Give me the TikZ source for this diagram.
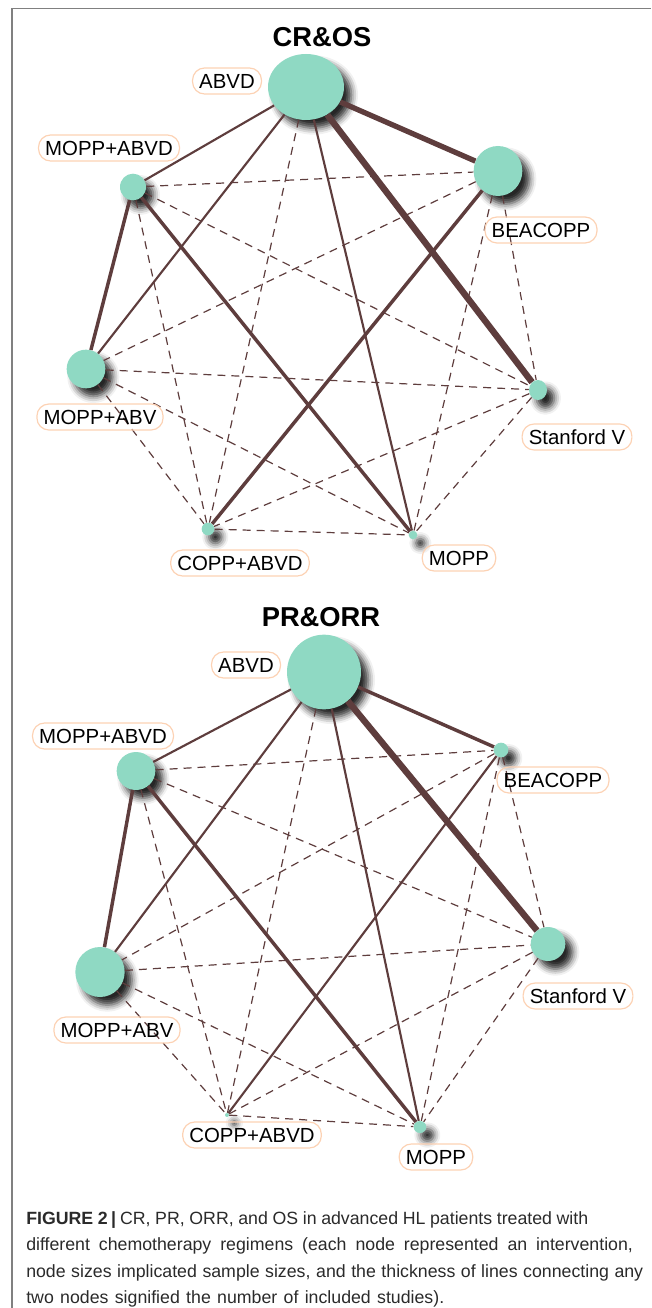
\documentclass[tikz,border=0pt]{standalone}
\usepackage{fontspec}
\setmainfont{Liberation Sans}
\usetikzlibrary{shapes.geometric,shadows.blur}
\definecolor{nodefill}{HTML}{8FD9C3}
\definecolor{edgecol}{HTML}{5E3D3D}
\definecolor{labborder}{HTML}{FCD2B4}
\definecolor{framecol}{HTML}{808080}
\definecolor{captcol}{HTML}{2A2A2A}
\tikzset{
  nd/.style={ellipse, fill=nodefill, inner sep=0pt,
    blur shadow={shadow xshift=5.5pt, shadow yshift=-6pt, shadow blur radius=5pt, shadow opacity=85}},
  lab/.style={draw=labborder, line width=0.9pt, rounded corners=9pt, inner xsep=5pt, inner ysep=0pt,
    minimum height=19.5pt, font=\fontsize{15.3pt}{17pt}\selectfont, text=black},
  ttl/.style={font=\fontsize{20.5pt}{24pt}\selectfont\bfseries},
  captxt/.style={anchor=base west, inner sep=0pt, text=captcol, font=\fontsize{13.3pt}{20pt}\selectfont},
  ed/.style={draw=edgecol},
  wa/.style={ed, line width=1.6pt},
  wb/.style={ed, line width=2.6pt},
  wc/.style={ed, line width=4pt},
  wd/.style={ed, line width=4.8pt},
  dsh/.style={ed, line width=0.9pt, dash pattern=on 6pt off 4.5pt},
}
\begin{document}
\begin{tikzpicture}[x=0.75pt, y=-0.75pt]
\useasboundingbox (0,0) rectangle (651,1308);
% frame
\coordinate (fa) at (12,1308);
\coordinate (fb) at (12,8.5);
\coordinate (fc) at (651,8.5);
\draw[framecol, line width=1.2pt] (fa) -- (fb) -- (fc);

% ===== top graph =====
\node[ttl] (t-title) at (322,37) {CR\&OS};
\node[nd, minimum width=57pt, minimum height=49.5pt] (t-abvd) at (306,87) {};
\node[nd, minimum width=19.5pt, minimum height=20pt] (t-mabvd) at (133,187) {};
\node[nd, minimum width=36.5pt, minimum height=37.5pt] (t-beac) at (498,171) {};
\node[nd, minimum width=29pt, minimum height=29pt] (t-mabv) at (86,369) {};
\node[nd, minimum width=13.5pt, minimum height=15pt] (t-stan) at (538,390) {};
\node[nd, minimum width=9.5pt, minimum height=9.5pt] (t-copp) at (208,529) {};
\node[nd, minimum width=6.5pt, minimum height=6.5pt] (t-mopp) at (413,535) {};

\draw[wa] (t-abvd) -- (t-mabvd);
\draw[wa] (t-abvd) -- (t-mabv);
\draw[wc] (t-abvd) -- (t-beac);
\draw[wd] (t-abvd) -- (t-stan);
\draw[wa] (t-abvd) -- (t-mopp);
\draw[dsh] (t-abvd) -- (t-copp);
\draw[wb] (t-mabvd) -- (t-mabv);
\draw[wb] (t-mabvd) -- (t-mopp);
\draw[dsh] (t-mabvd) -- (t-beac);
\draw[dsh] (t-mabvd) -- (t-stan);
\draw[dsh] (t-mabvd) -- (t-copp);
\draw[wb] (t-beac) -- (t-copp);
\draw[dsh] (t-beac) -- (t-mabv);
\draw[dsh] (t-beac) -- (t-mopp);
\draw[dsh] (t-beac) -- (t-stan);
\draw[dsh] (t-mabv) -- (t-stan);
\draw[dsh] (t-mabv) -- (t-copp);
\draw[dsh] (t-mabv) -- (t-mopp);
\draw[dsh] (t-stan) -- (t-copp);
\draw[dsh] (t-stan) -- (t-mopp);
\draw[dsh] (t-copp) -- (t-mopp);

\node[lab] (tl-abvd) at (227,81) {ABVD};
\node[lab] (tl-mabvd) at (109,148) {MOPP+ABVD};
\node[lab] (tl-beac) at (541,230) {BEACOPP};
\node[lab] (tl-mabv) at (100,417) {MOPP+ABV};
\node[lab] (tl-stan) at (577,437) {Stanford V};
\node[lab] (tl-copp) at (240,563) {COPP+ABVD};
\node[lab] (tl-mopp) at (459,558) {MOPP};

% ===== bottom graph =====
\node[ttl] (b-title) at (321,617) {PR\&ORR};
\node[nd, minimum width=55.5pt, minimum height=56pt] (b-abvd) at (324,672) {};
\node[nd, minimum width=29pt, minimum height=28.5pt] (b-mabvd) at (136,771) {};
\node[nd, minimum width=11pt, minimum height=11pt] (b-beac) at (501,750) {};
\node[nd, minimum width=37pt, minimum height=37.5pt] (b-mabv) at (100,972) {};
\node[nd, minimum width=26pt, minimum height=25.5pt] (b-stan) at (548,944) {};
\node[nd, minimum width=3pt, minimum height=3pt] (b-copp) at (227,1115) {};
\node[nd, minimum width=9.5pt, minimum height=9pt] (b-mopp) at (420,1127) {};

\draw[wa] (b-abvd) -- (b-mabvd);
\draw[wa] (b-abvd) -- (b-mabv);
\draw[wb] (b-abvd) -- (b-beac);
\draw[wd] (b-abvd) -- (b-stan);
\draw[wa] (b-abvd) -- (b-mopp);
\draw[dsh] (b-abvd) -- (b-copp);
\draw[wb] (b-mabvd) -- (b-mabv);
\draw[wb] (b-mabvd) -- (b-mopp);
\draw[dsh] (b-mabvd) -- (b-beac);
\draw[dsh] (b-mabvd) -- (b-stan);
\draw[dsh] (b-mabvd) -- (b-copp);
\draw[wa] (b-beac) -- (b-copp);
\draw[dsh] (b-beac) -- (b-mabv);
\draw[dsh] (b-beac) -- (b-mopp);
\draw[dsh] (b-beac) -- (b-stan);
\draw[dsh] (b-mabv) -- (b-stan);
\draw[dsh] (b-mabv) -- (b-copp);
\draw[dsh] (b-mabv) -- (b-mopp);
\draw[dsh] (b-stan) -- (b-copp);
\draw[dsh] (b-stan) -- (b-mopp);
\draw[dsh] (b-copp) -- (b-mopp);

\node[lab] (bl-abvd) at (246,665) {ABVD};
\node[lab] (bl-mabvd) at (103,736) {MOPP+ABVD};
\node[lab] (bl-beac) at (553,780) {BEACOPP};
\node[lab] (bl-mabv) at (117,1030) {MOPP+ABV};
\node[lab] (bl-stan) at (578,996) {Stanford V};
\node[lab] (bl-copp) at (252,1135) {COPP+ABVD};
\node[lab] (bl-mopp) at (436,1157) {MOPP};

% ===== caption =====
\node[captxt] (cap1) at (26,1224) {\makebox[421.5pt][s]{\textbf{FIGURE 2\hspace{2.5pt}|}\hspace{3pt}CR, PR, ORR, and OS in advanced HL patients treated with}};
\node[captxt] (cap2) at (26,1250.5) {\makebox[455pt][s]{different chemotherapy regimens (each node represented an intervention,}};
\node[captxt] (cap3) at (26,1277) {\makebox[462.7pt][s]{node sizes implicated sample sizes, and the thickness of lines connecting any}};
\node[captxt] (cap4) at (26,1303.5) {\makebox[313.5pt][s]{two nodes signified the number of included studies).}};
\end{tikzpicture}
\end{document}
